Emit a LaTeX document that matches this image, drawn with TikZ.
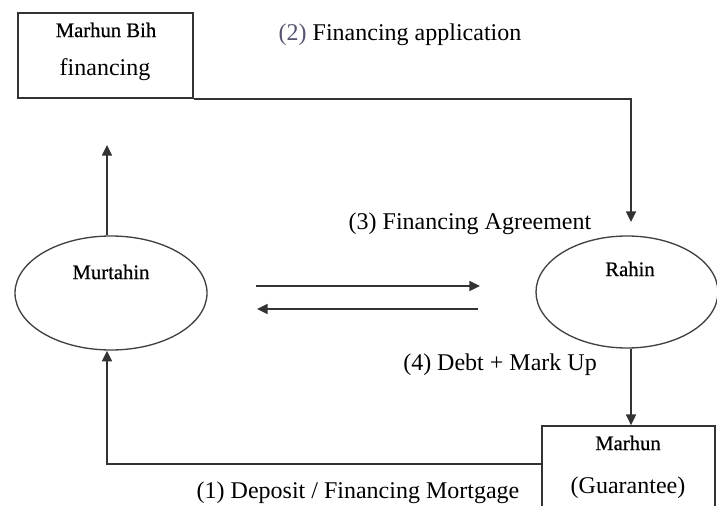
\documentclass[tikz,border=0pt]{standalone}
\usepackage{fontspec}
\setmainfont{Liberation Serif}
\newfontfamily\namefont[FakeBold=0.6]{Liberation Serif}
\usepackage{xcolor}
\usepackage{tikz}
\usetikzlibrary{arrows.meta,positioning,shapes.geometric,calc}

\definecolor{stepgrey}{RGB}{85,85,115}

\tikzset{
  flow/.style={draw=black!80, line width=1.3pt},
  flowarrow/.style={flow, -{Triangle[length=8pt,width=7.5pt]}},
  party/.style={ellipse, draw=black!75, line width=1pt, inner sep=0pt},
  item/.style={rectangle, draw=black!80, line width=1.3pt, inner sep=0pt},
  steplabel/.style={font=\fontsize{18}{22}\selectfont, inner sep=0pt},
  namelabel/.style={font=\namefont\fontsize{15.5}{18}\selectfont, inner sep=0pt},
}

\begin{document}
\begin{tikzpicture}[x=0.75pt, y=-0.75pt]
    \clip (0,0) rectangle (717,506);

    % Boxes and parties
    \node[item, minimum width=131.25pt, minimum height=63.75pt] (mbih) at (105.5,55.5) {};
    \node[namelabel] (mbihname) at (106,30) {Marhun Bih};
    \node[steplabel] (mbihfin) at (105,70) {financing};

    \node[party, minimum width=144pt, minimum height=85.5pt] (murtahin) at (111,293) {};
    \node[namelabel] (murtahinname) at (111,272) {Murtahin};

    \node[party, minimum width=136.5pt, minimum height=84pt] (rahin) at (627,292) {};
    \node[namelabel] (rahinname) at (630,269) {Rahin};

    \node[item, minimum width=129.75pt, minimum height=90pt] (marhun) at (628.5,486) {};
    \node[namelabel] (marhunname) at (628,443) {Marhun};
    \node[steplabel] (marhunguar) at (628,488) {(Guarantee)};

    % Free ends of the arrows
    \coordinate (apptip) at (631,222);
    \coordinate (uptip) at (107,145);
    \coordinate (agrL) at (256,286);
    \coordinate (agrR) at (480,286);
    \coordinate (debtL) at (257,309);
    \coordinate (debtR) at (478,309);

    % Flows
    \draw[flowarrow] (mbih.south east) -| (apptip);
    \draw[flowarrow] (murtahin.north -| uptip) -- (uptip);
    \draw[flowarrow] (agrL) -- (agrR);
    \draw[flowarrow] (debtR) -- (debtL);
    \draw[flowarrow] (rahin.south -| apptip) -- (marhun.north -| apptip);
    \draw[flowarrow] ($(marhun.north west)+(0,39)$) -| (murtahin.south -| uptip);

    % Step labels
    \node[steplabel] (lbl1) at (358,493) {(1) Deposit / Financing Mortgage};
    \node[steplabel] (lbl2) at (400,35) {{\color{stepgrey}(2)} Financing application};
    \node[steplabel] (lbl3) at (470,224) {(3) Financing Agreement};
    \node[steplabel] (lbl4) at (500,365) {(4) Debt + Mark Up};
\end{tikzpicture}
\end{document}
